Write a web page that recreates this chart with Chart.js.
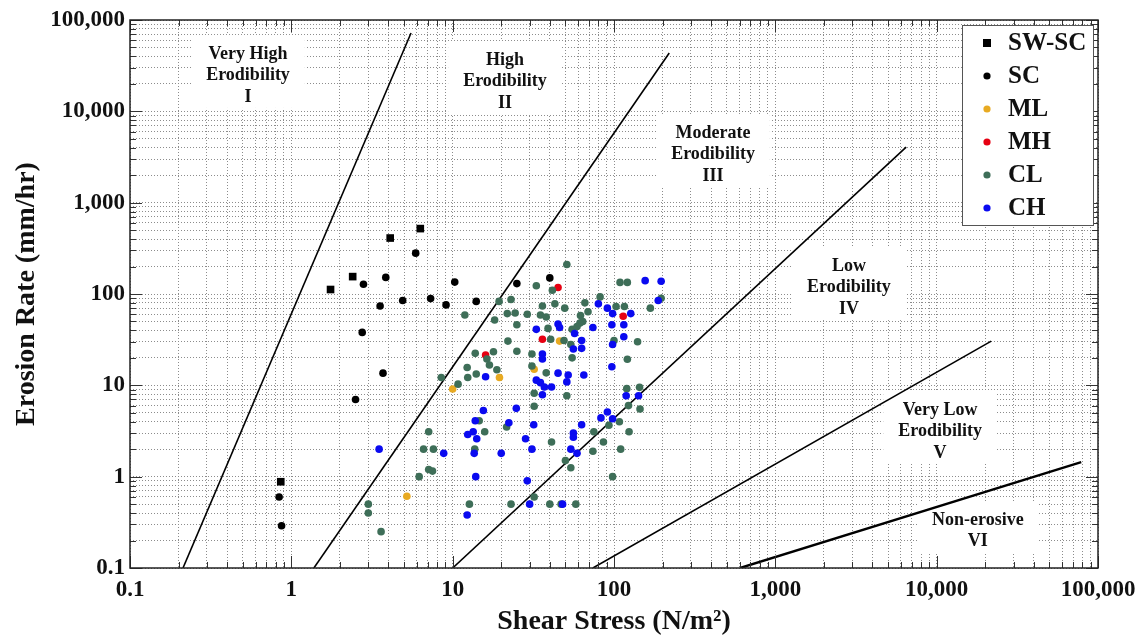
<!DOCTYPE html>
<html>
<head>
<meta charset="utf-8">
<title>Erosion Rate vs Shear Stress</title>
<script src="https://cdn.jsdelivr.net/npm/chart.js@4/dist/chart.umd.min.js"></script>
<style>
  html, body { margin: 0; padding: 0; background: #fff; }
</style>
</head>
<body>
<canvas id="erosionChart" width="1144" height="640"></canvas>
<script>
// measured points per soil class: [shear stress (N/m2), erosion rate (mm/hr)]
const swsc = [[0.86, 0.88], [1.75, 112], [2.4, 155], [4.1, 410], [6.3, 520]];
const sc = [[2.8, 128], [3.85, 152], [5.9, 280], [10.3, 135], [3.55, 74], [4.9, 85], [7.3, 89], [9.1, 76],
  [14, 83], [2.75, 38], [3.7, 13.6], [2.5, 7.0], [0.84, 0.6], [0.87, 0.29], [25, 130], [40, 150]];
const ml = [[10, 9.1], [19.5, 12.2], [5.2, 0.61], [46, 30.5], [32, 15]];
const mh = [[45, 118], [114, 57], [36, 32], [16, 21.5]];
const cl = [[7.1, 3.1], [6.6, 2.0], [7.6, 2.0], [6.2, 1.0], [7.1, 1.2], [7.5, 1.15], [3.0, 0.5], [3.0, 0.4],
  [3.6, 0.25], [10.8, 10.3], [14.6, 4.1], [15.8, 3.1], [13.7, 2.0], [12.7, 0.5], [21.6, 3.5], [32, 8.2],
  [32, 5.9], [51, 7.7], [41, 2.4], [50, 1.5], [54, 1.25], [32, 0.6], [23, 0.5], [40, 0.5], [47, 0.5],
  [58, 0.5], [93, 3.65], [108, 4.0], [75, 3.1], [86, 2.4], [124, 3.1], [74, 1.9], [110, 2.0], [98, 1.0],
  [123, 6.0], [145, 5.5], [120, 9.2], [144, 9.5], [51, 210], [41.5, 110], [33, 123], [11.9, 59],
  [19.4, 83], [23, 87], [18.2, 52], [21.8, 61], [24.4, 62], [29, 60], [25, 46], [36, 74], [43, 78],
  [49.5, 70], [35, 59], [38, 56], [39, 42], [66, 80], [69, 64], [62, 58], [64, 50], [61.5, 48], [55, 41],
  [59, 44], [82, 93], [103, 73], [116, 73], [140, 30], [109, 134], [121, 134], [196, 90], [168, 70],
  [22, 30.5], [40.5, 32], [49, 31], [54, 28], [25, 23.6], [31, 22], [55, 20], [121, 19.3], [31, 16.3],
  [38, 13.7], [13.8, 22.4], [17.9, 23.3], [16.3, 19.4], [16.9, 16.7], [12.3, 15.7], [18.8, 14.8],
  [14, 13.3], [12.4, 12.2], [8.5, 12.2], [100, 31]];
const ch = [[3.5, 2.0], [8.8, 1.8], [15.5, 5.3], [13.8, 4.1], [12.4, 2.9], [13.4, 3.1], [14.1, 2.6],
  [13.6, 1.8], [13.9, 1.0], [12.3, 0.38], [20, 1.8], [24.8, 5.6], [22.3, 3.9], [31.8, 3.7], [28.3, 2.6],
  [31, 2.0], [36, 7.9], [63, 3.7], [56, 3.0], [56, 2.7], [54, 2.0], [59, 1.8], [29, 0.9], [30, 0.5],
  [48, 0.5], [83, 4.4], [91, 5.1], [98, 4.3], [119, 7.7], [142, 7.7], [33, 41], [45, 47], [46, 43],
  [57, 37], [74, 43], [80, 78], [91, 70], [98, 61], [127, 61], [97, 46], [115, 46], [115, 34], [98, 28],
  [156, 140], [196, 138], [188, 85], [63, 31], [56, 25], [63, 25.4], [36, 22], [36, 19.4], [97, 16],
  [45, 13.6], [52, 13], [51, 10.9], [65, 13], [33, 11.4], [35, 10.7], [37, 9.6], [41, 9.6], [16, 12.4]];

// erodibility category boundaries, each from bottom end to top end
const zoneBounds = [
  [[0.213, 0.1], [5.52, 72000]],
  [[1.38, 0.1], [220, 43500]],
  [[10, 0.1], [6470, 4060]],
  [[74, 0.1], [21800, 30.5]],
  [[605, 0.1], [78700, 1.44]]
];
const zoneNames = [
  ['Very High', 'Erodibility', 'I'],
  ['High', 'Erodibility', 'II'],
  ['Moderate', 'Erodibility', 'III'],
  ['Low', 'Erodibility', 'IV'],
  ['Very Low', 'Erodibility', 'V'],
  ['Non-erosive', 'VI']
];
// where the first line of each category name sits, in axis units
const zoneAnchors = [[0.539, 42500], [21.1, 36500], [411, 5800], [2860, 202], [10500, 5.37], [18000, 0.335]];

const series = [
  { label: 'SW-SC', data: swsc, color: '#000000', style: 'rect' },
  { label: 'SC', data: sc, color: '#000000', style: 'circle' },
  { label: 'ML', data: ml, color: '#e8aa22', style: 'circle' },
  { label: 'MH', data: mh, color: '#e60012', style: 'circle' },
  { label: 'CL', data: cl, color: '#3e6e58', style: 'circle' },
  { label: 'CH', data: ch, color: '#0a0af0', style: 'circle' }
];

// 1..9 x 10^n ticks from 0.1 to 100,000
const logTicks = [];
for (let e = -1; e <= 5; e++) {
  for (let k = 1; k <= 9; k++) {
    const v = k * Math.pow(10, e);
    if (v <= 100000 * 1.0001) logTicks.push({ value: v, major: k === 1 });
  }
}

function isDecade(v) {
  const l = Math.log10(v);
  return Math.abs(l - Math.round(l)) < 1e-9;
}
function fmtDecade(v) {
  if (v < 1) return String(Math.round(v * 10) / 10);
  return Math.round(v).toLocaleString('en-US');
}

const serif = 'Liberation Serif, Times New Roman, serif';

const decorations = {
  id: 'decorations',
  beforeDatasetsDraw(chart) {
    const { ctx, scales: { x, y } } = chart;
    ctx.save();
    ctx.font = 'bold 18px ' + serif;
    ctx.textAlign = 'center';
    ctx.textBaseline = 'middle';
    zoneNames.forEach((lines, i) => {
      const cx = x.getPixelForValue(zoneAnchors[i][0]);
      const cy = y.getPixelForValue(zoneAnchors[i][1]);
      const w = Math.max(...lines.map(t => ctx.measureText(t).width)) + 30;
      const top = cy - 19;
      const h = (lines.length - 1) * 21.5 + 30;
      ctx.fillStyle = '#ffffff';
      ctx.fillRect(cx - w / 2, top, w, h);
      ctx.fillStyle = '#111';
      lines.forEach((t, j) => ctx.fillText(t, cx, cy + j * 21.5));
    });
    ctx.restore();
  },
  afterDraw(chart) {
    const { ctx, chartArea: a, scales: { x, y } } = chart;
    ctx.save();
    // inward tick marks on all four sides
    ctx.strokeStyle = '#333';
    ctx.lineWidth = 1;
    ctx.beginPath();
    logTicks.forEach(t => {
      const len = t.major ? 12 : 6;
      const px = Math.round(x.getPixelForValue(t.value)) + 0.5;
      ctx.moveTo(px, a.bottom); ctx.lineTo(px, a.bottom - len);
      ctx.moveTo(px, a.top); ctx.lineTo(px, a.top + len);
      const py = Math.round(y.getPixelForValue(t.value)) + 0.5;
      ctx.moveTo(a.left, py); ctx.lineTo(a.left + len, py);
      ctx.moveTo(a.right, py); ctx.lineTo(a.right - len, py);
    });
    ctx.stroke();
    // plot frame
    ctx.strokeStyle = '#222';
    ctx.lineWidth = 1.5;
    ctx.strokeRect(a.left, a.top, a.right - a.left, a.bottom - a.top);

    // legend box in the upper right corner
    const lx = a.right - 136, ly = a.top + 5, lw = 131, lh = 200;
    ctx.fillStyle = '#fff';
    ctx.fillRect(lx, ly, lw, lh);
    ctx.strokeStyle = '#555';
    ctx.lineWidth = 1;
    ctx.strokeRect(lx + 0.5, ly + 0.5, lw, lh);
    ctx.font = 'bold 25px ' + serif;
    ctx.textBaseline = 'middle';
    ctx.textAlign = 'left';
    series.forEach((s, i) => {
      const rowY = ly + 18 + i * 33;
      ctx.fillStyle = s.color;
      if (s.style === 'rect') {
        ctx.fillRect(lx + 21, rowY - 4, 8, 8);
      } else {
        ctx.beginPath();
        ctx.arc(lx + 25, rowY, 3.6, 0, Math.PI * 2);
        ctx.fill();
      }
      ctx.fillStyle = '#111';
      ctx.fillText(s.label, lx + 46, rowY + 1);
    });
    ctx.restore();
  }
};

const lineSets = zoneBounds.map((pts, i) => ({
  label: 'bound' + i,
  data: pts.map(([x, y]) => ({ x, y })),
  showLine: true,
  borderColor: '#000',
  borderWidth: i === 4 ? 2.4 : 1.6,
  pointRadius: 0,
  fill: false,
  order: 20
}));

const pointSets = series.map((s, i) => ({
  label: s.label,
  data: s.data.map(([x, y]) => ({ x, y })),
  backgroundColor: s.color,
  borderWidth: 0,
  pointStyle: s.style,
  pointRadius: s.style === 'rect' ? 5.4 : 3.8,
  showLine: false,
  order: 10 - i
}));

const axisOpts = (titleText, fit, titlePad) => ({
  type: 'logarithmic',
  min: 0.1,
  max: 100000,
  afterBuildTicks(scale) { scale.ticks = logTicks.map(t => ({ value: t.value, major: t.major })); },
  afterFit: fit,
  grid: { color: '#8c8c8c', lineWidth: 1, drawTicks: false },
  border: { display: false, dash: [1, 2] },
  ticks: {
    autoSkip: false,
    maxRotation: 0,
    color: '#111',
    font: { family: serif, weight: 'bold', size: 23 },
    callback: (v) => isDecade(v) ? fmtDecade(v) : ''
  },
  title: {
    display: true,
    text: titleText,
    color: '#111',
    font: { family: serif, weight: 'bold', size: 28 },
    padding: titlePad
  }
});

const xAxis = axisOpts('Shear Stress (N/m²)', (s) => { s.height = 72; }, { top: 0, bottom: 1 });
xAxis.ticks.padding = 8;
const yAxis = axisOpts('Erosion Rate (mm/hr)', (s) => { s.width = 130; }, { top: 10, bottom: 0 });
yAxis.ticks.padding = 5;

new Chart(document.getElementById('erosionChart'), {
  type: 'scatter',
  data: { datasets: [...pointSets, ...lineSets] },
  options: {
    responsive: false,
    animation: false,
    layout: { padding: { top: 20, right: 46, left: 0, bottom: 0 } },
    plugins: { legend: { display: false }, tooltip: { enabled: false } },
    scales: { x: xAxis, y: yAxis }
  },
  plugins: [decorations]
});
</script>
</body>
</html>
